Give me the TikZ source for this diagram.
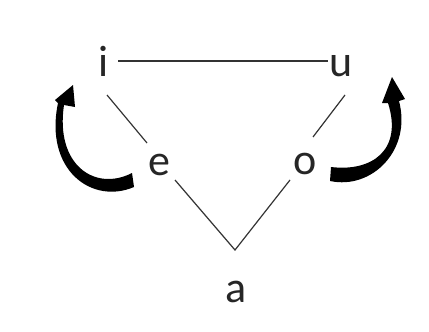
\documentclass[tikz,border=0pt]{standalone}
\usepackage{fontspec}
\setmainfont{Carlito}
\begin{document}
\begin{tikzpicture}[x=1pt,y=-1pt,
  vowel/.style={font=\fontsize{44}{48}\selectfont, inner sep=0pt, anchor=base, text=black!85},
  edge/.style={line width=1.2pt, draw=black!80},
  bigarrow/.style={fill=black, draw=none}]
\useasboundingbox (0,0) rectangle (429,332);
\node[vowel] (i) at (104,76) {i};
\node[vowel] (u) at (341,76) {u};
\node[vowel] (e) at (159,175) {e};
\node[vowel] (o) at (305,174) {o};
\node[vowel] (a) at (236,302) {a};
\coordinate (iu1) at (118,61);
\coordinate (iu2) at (328,61);
\coordinate (ie1) at (107,95);
\coordinate (ie2) at (147,143);
\coordinate (ea1) at (175,180);
\coordinate (apex) at (235,250);
\coordinate (oa1) at (290,180);
\coordinate (ou1) at (313,137);
\coordinate (ou2) at (345,95);
\draw[edge] (iu1) -- (iu2);
\draw[edge] (ie1) -- (ie2);
\draw[edge] (ea1) -- (apex) -- (oa1);
\draw[edge] (ou1) -- (ou2);
% left arrow
\fill[bigarrow] (132,173) .. controls (95,192) and (55,165) .. (64,105)
  -- (75,107) -- (73,85) -- (55,100) -- (58,103)
  .. controls (44,170) and (92,205) .. (134,187) -- cycle;
% right arrow
\fill[bigarrow] (330,181) .. controls (372,190) and (412,150) .. (399,101)
  -- (405,99) -- (392,77) -- (382,103) -- (388,103)
  .. controls (403,150) and (372,172) .. (331,167) -- cycle;
\end{tikzpicture}
\end{document}
